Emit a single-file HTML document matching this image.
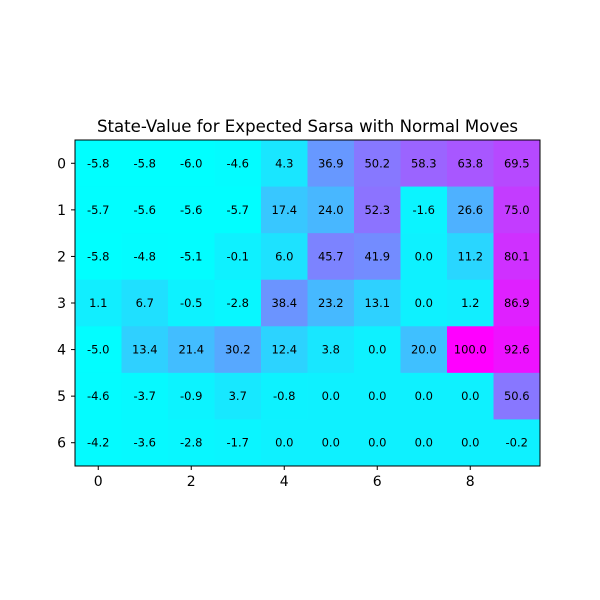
<!DOCTYPE html>
<html><head><meta charset="utf-8"><style>
html,body{margin:0;padding:0;background:#fff;}
svg{display:block;font-family:"DejaVu Sans","Liberation Sans",sans-serif;}
</style></head><body>
<svg id="chart" width="600" height="600">
<rect width="600" height="600" fill="#fff"/>
<text x="307.5" y="132" font-size="16.6" text-anchor="middle">State-Value for Expected Sarsa with Normal Moves</text>
<g id="cells"></g><g id="ticks"></g>
<rect x="75" y="140" width="465" height="326" fill="none" stroke="#000" stroke-width="1"/>
</svg>
<script>
const rowLabels=[0,1,2,3,4,5,6];
const colLabels=[0,1,2,3,4,5,6,7,8,9];
const xTickLabels=[0,2,4,6,8];
const yTickLabels=[0,1,2,3,4,5,6];
const row0=[-5.8,-5.8,-6.0,-4.6,4.3,36.9,50.2,58.3,63.8,69.5];
const row1=[-5.7,-5.6,-5.6,-5.7,17.4,24.0,52.3,-1.6,26.6,75.0];
const row2=[-5.8,-4.8,-5.1,-0.1,6.0,45.7,41.9,0.0,11.2,80.1];
const row3=[1.1,6.7,-0.5,-2.8,38.4,23.2,13.1,0.0,1.2,86.9];
const row4=[-5.0,13.4,21.4,30.2,12.4,3.8,0.0,20.0,100.0,92.6];
const row5=[-4.6,-3.7,-0.9,3.7,-0.8,0.0,0.0,0.0,0.0,50.6];
const row6=[-4.2,-3.6,-2.8,-1.7,0.0,0.0,0.0,0.0,0.0,-0.2];
const values=[row0,row1,row2,row3,row4,row5,row6];

const L=75,T=140,W=465,H=326;
const cw=W/colLabels.length, ch=H/rowLabels.length;
const xc=c=>L+(c+0.5)*cw, yc=r=>T+(r+0.5)*ch;
const flat=values.flat();
const vmin=Math.min(...flat), vmax=Math.max(...flat);
const cool=v=>{const t=(v-vmin)/(vmax-vmin);return `rgb(${Math.round(255*t)},${Math.round(255*(1-t))},255)`;};
const NS="http://www.w3.org/2000/svg";
const cells=document.getElementById('cells'), ticks=document.getElementById('ticks');
function mk(tag,attrs,parent){const e=document.createElementNS(NS,tag);for(const k in attrs)e.setAttribute(k,attrs[k]);parent.appendChild(e);return e;}
values.forEach((row,r)=>row.forEach((v,c)=>{
  const rc=mk('rect',{x:L+c*cw,y:T+r*ch,width:cw+0.5,height:ch+0.5,fill:cool(v)},cells);
  
  
  const t=mk('text',{x:xc(c),y:yc(r)+4,'font-size':'11.5','text-anchor':'middle'},cells);
  t.textContent=v.toFixed(1);
  
  
}));
xTickLabels.forEach(v=>{
  const ln=mk('line',{x1:xc(v),x2:xc(v),y1:T+H,y2:T+H+4,stroke:'#000'},ticks);
  
  
  const t=mk('text',{x:xc(v),y:T+H+20,'font-size':'14','text-anchor':'middle'},ticks);
  t.textContent=v;
  
  
});
yTickLabels.forEach(v=>{
  const ln=mk('line',{x1:L-4,x2:L,y1:yc(v),y2:yc(v),stroke:'#000'},ticks);
  
  
  const t=mk('text',{x:L-9,y:yc(v)+5,'font-size':'14','text-anchor':'end'},ticks);
  t.textContent=v;
  
  
});
</script>
</body></html>
